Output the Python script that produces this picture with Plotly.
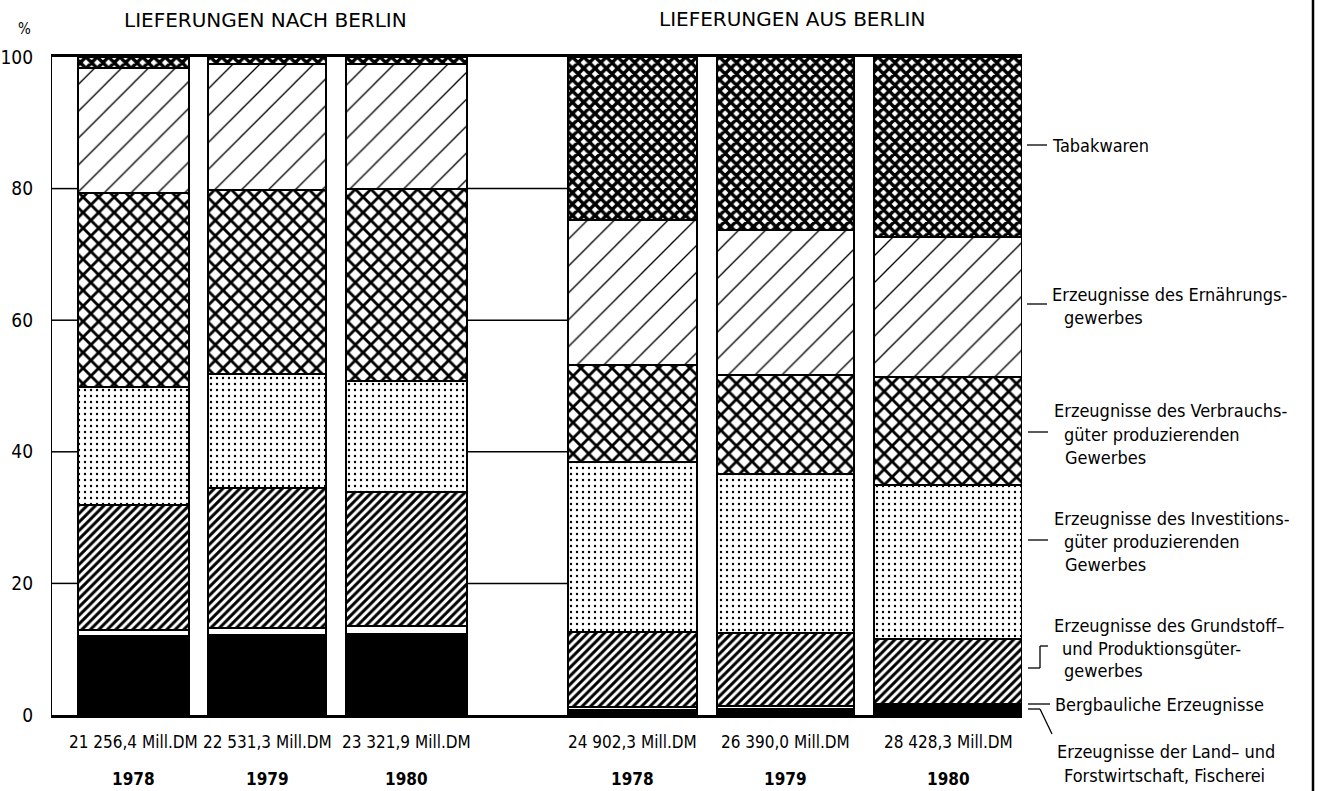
import plotly.graph_objects as go

# ---------------- data ----------------
years = ["1978", "1979", "1980", "1978", "1979", "1980"]
group_titles = ["LIEFERUNGEN NACH BERLIN", "LIEFERUNGEN AUS BERLIN"]
totals = [21256.4, 22531.3, 23321.9, 24902.3, 26390.0, 28428.3]  # Mill. DM

land = [12.0, 12.2, 12.3, 0.8, 0.9, 1.3]
bergbau = [0.9, 1.0, 1.3, 0.4, 0.4, 0.4]
grund = [19.0, 21.3, 20.3, 11.4, 11.1, 9.8]
invest = [18.0, 17.3, 16.9, 25.9, 24.2, 23.5]
verbrauch = [29.4, 28.0, 29.2, 14.7, 15.0, 16.4]
ernaehrung = [19.0, 19.2, 19.0, 22.0, 22.1, 21.3]
tabak = [1.7, 1.0, 1.0, 24.8, 26.3, 27.3]

series_names = [
    "Erzeugnisse der Land- und Forstwirtschaft, Fischerei",
    "Bergbauliche Erzeugnisse",
    "Erzeugnisse des Grundstoff- und Produktionsgütergewerbes",
    "Erzeugnisse des Investitionsgüter produzierenden Gewerbes",
    "Erzeugnisse des Verbrauchsgüter produzierenden Gewerbes",
    "Erzeugnisse des Ernährungsgewerbes",
    "Tabakwaren",
]
series_values = [land, bergbau, grund, invest, verbrauch, ernaehrung, tabak]

y_ticks = [0, 20, 40, 60, 80, 100]

# ---------------- layout helpers ----------------
W, H = 1318, 791
L_PX, R_PX, T_PX, B_PX = 52, 1022, 57, 715


def pxx(p):
    return (p - L_PX) / (R_PX - L_PX)


def pxy(p):
    return (B_PX - p) / (B_PX - T_PX)


FN = "Liberation Sans Narrow, Arial Narrow, DejaVu Sans Condensed, sans-serif"
FT = "DejaVu Sans, Liberation Sans, sans-serif"

# bar widths proportional to total value
widths = [t / 1000.0 for t in totals]
left_gap, bar_gap, group_gap = 5.0, 3.84, 19.4
lefts = []
cur = left_gap
for i, w in enumerate(widths):
    if i > 0:
        cur += group_gap if i == 3 else bar_gap
    lefts.append(cur)
    cur += w
x_end = cur
centers = [l + w / 2 for l, w in zip(lefts, widths)]
rights = [l + w for l, w in zip(lefts, widths)]


def pat(shape, size, solidity):
    return dict(shape=shape, fgcolor="black", bgcolor="white", fgopacity=1,
                size=size, solidity=solidity, fillmode="replace")


styles = [
    dict(color="black"),
    dict(color="white"),
    dict(color="white", pattern=pat("/", 6, 0.5)),
    dict(color="white", pattern=pat(".", 6, 0.12)),
    dict(color="white", pattern=pat("x", 11, 0.45)),
    dict(color="white", pattern=pat("/", 19, 0.07)),
    dict(color="white", pattern=pat("x", 8, 0.68)),
]

fig = go.Figure()
for name, vals, st in zip(series_names, series_values, styles):
    fig.add_trace(go.Bar(
        x=centers, y=vals, width=widths, name=name,
        marker=dict(line=dict(color="black", width=2), **st),
        showlegend=False, hoverinfo="skip",
    ))

shapes = []
# gridlines only in the free spaces
for v in y_ticks[1:-1]:
    for a, b in [(0, lefts[0]), (rights[2], lefts[3])]:
        shapes.append(dict(type="line", xref="x", yref="y", x0=a, x1=b, y0=v, y1=v,
                           line=dict(color="black", width=1.5), layer="below"))
# right frame line
shapes.append(dict(type="line", xref="paper", yref="paper", x0=pxx(1313), x1=pxx(1313),
                   y0=pxy(0), y1=pxy(791), line=dict(color="black", width=2.5)))


def seg(x0, y0, x1, y1, w=1.3):
    shapes.append(dict(type="line", xref="paper", yref="paper", x0=pxx(x0), x1=pxx(x1),
                       y0=pxy(y0), y1=pxy(y1), line=dict(color="black", width=w)))


# leader lines for the category labels
seg(1027, 145, 1047, 145)
seg(1027, 304, 1047, 304)
seg(1028, 432, 1048, 432)
seg(1028, 540, 1048, 540)
seg(1040, 646, 1048, 646)
seg(1040, 646, 1040, 668)
seg(1028, 668, 1040, 668)
seg(1028, 704, 1050, 704)
seg(1028, 709, 1040, 709)
seg(1040, 709, 1052, 734)

ann = []


def txt(x, y, s, size=18, font=FN, anchor="left", bold=False):
    ann.append(dict(xref="paper", yref="paper", x=pxx(x), y=pxy(y), text=("<b>%s</b>" % s) if bold else s,
                    showarrow=False, xanchor=anchor, yanchor="middle",
                    font=dict(family=font, size=size, color="black")))


# titles
txt(265, 20, group_titles[0], size=20, font=FT, anchor="center")
txt(792, 19, group_titles[1], size=20, font=FT, anchor="center")
txt(24, 29, "%", size=15, font=FN, anchor="center")

# bottom labels from data
for c, t, yr in zip(centers, totals, years):
    s = f"{t:,.1f}".replace(",", " ").replace(".", ",") + " Mill.DM"
    ann.append(dict(xref="x", yref="paper", x=c, y=pxy(742), text=s, showarrow=False,
                    xanchor="center", yanchor="middle", font=dict(family=FN, size=17, color="black")))
    ann.append(dict(xref="x", yref="paper", x=c, y=pxy(779), text="<b>%s</b>" % yr, showarrow=False,
                    xanchor="center", yanchor="middle", font=dict(family=FN, size=17, color="black")))

# category labels at right
txt(1050, 145, "Tabakwaren")
txt(1050, 294, "Erzeugnisse des Ernährungs-")
txt(1062, 317, "gewerbes")
txt(1052, 411, "Erzeugnisse des Verbrauchs-")
txt(1062, 434, "güter produzierenden")
txt(1063, 457, "Gewerbes")
txt(1052, 518, "Erzeugnisse des Investitions-")
txt(1062, 541, "güter produzierenden")
txt(1063, 564, "Gewerbes")
txt(1052, 625, "Erzeugnisse des Grundstoff–")
txt(1060, 648, "und Produktionsgüter-")
txt(1062, 670, "gewerbes")
txt(1053, 704, "Bergbauliche Erzeugnisse")
txt(1055, 751, "Erzeugnisse der Land– und")
txt(1062, 775, "Forstwirtschaft, Fischerei")

fig.update_layout(
    template="none",
    width=W, height=H,
    margin=dict(l=L_PX, r=W - R_PX, t=T_PX, b=H - B_PX, pad=0),
    paper_bgcolor="white", plot_bgcolor="white",
    barmode="stack",
    shapes=shapes, annotations=ann,
    xaxis=dict(range=[0, x_end], showticklabels=False, showgrid=False, zeroline=False,
               showline=True, linecolor="black", linewidth=3, mirror=True, ticks="",
               automargin=False, fixedrange=True),
    yaxis=dict(range=[0, 100], tickvals=y_ticks, ticktext=[str(v) for v in y_ticks],
               showgrid=False, zeroline=False, showline=True, linecolor="black", linewidth=1.2,
               ticks="", ticklabelstandoff=14, tickfont=dict(family=FN, size=19, color="black"),
               automargin=False, fixedrange=True),
    font=dict(family=FN, color="black"),
)

fig.write_html("out.html", config={"displayModeBar": False},
               post_script="document.body.style.margin='0';")
